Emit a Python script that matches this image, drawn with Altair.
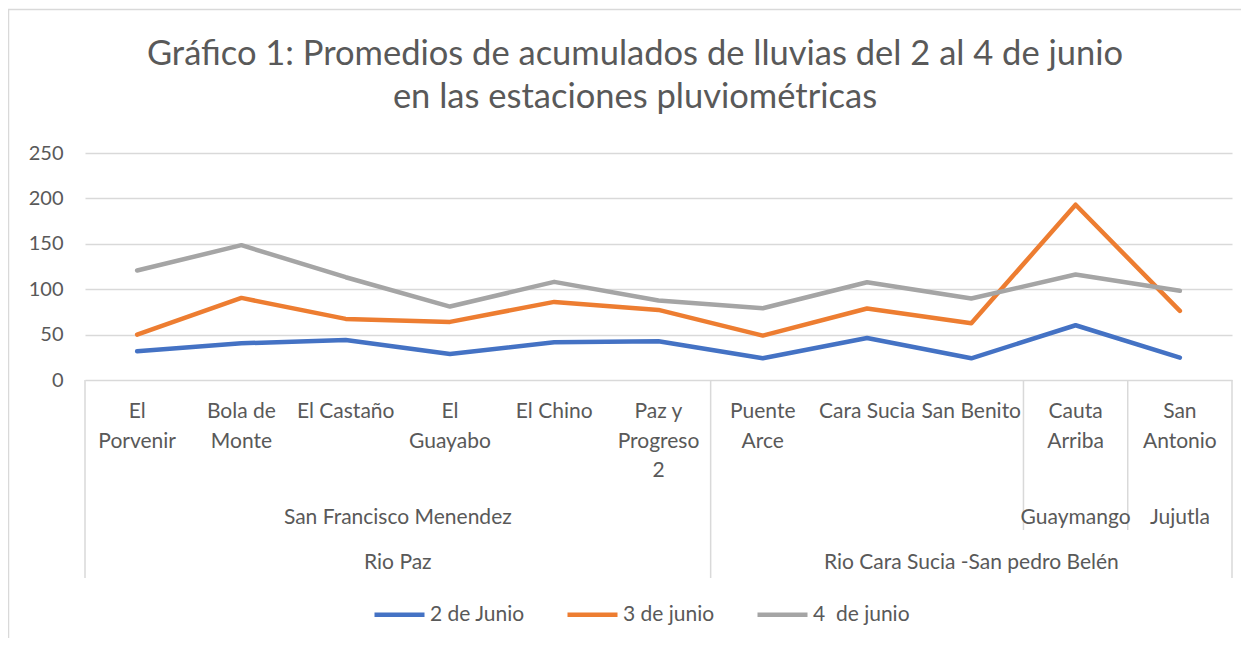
import altair as alt
import pandas as pd

# ---------------- data ----------------
estaciones = ["El Porvenir", "Bola de Monte", "El Castaño", "El Guayabo", "El Chino",
              "Paz y Progreso 2", "Puente Arce", "Cara Sucia", "San Benito",
              "Cauta Arriba", "San Antonio"]
etiquetas = ["El\nPorvenir", "Bola de\nMonte", "El Castaño", "El\nGuayabo", "El Chino",
             "Paz y\nProgreso\n2", "Puente\nArce", "Cara Sucia", "San Benito",
             "Cauta\nArriba", "San\nAntonio"]
municipios = ["San Francisco Menendez"] * 6 + [""] * 3 + ["Guaymango", "Jujutla"]
cuencas = ["Rio Paz"] * 6 + ["Rio Cara Sucia -San pedro Belén"] * 5

series = ["2 de Junio", "3 de junio", "4\u00a0 de junio"]
junio2 = [31.6, 40.4, 44.1, 28.7, 41.5, 42.6, 23.9, 46.3, 23.9, 60.3, 24.6]
junio3 = [50.0, 90.4, 67.3, 64.0, 86.0, 77.2, 48.9, 78.7, 62.5, 193.0, 76.1]
junio4 = [120.6, 148.5, 113.2, 80.9, 108.1, 87.5, 79.0, 107.7, 89.7, 116.2, 98.2]
colores = ["#4472C4", "#ED7D31", "#A5A5A5"]

titulo = "Gráfico 1: Promedios de acumulados de lluvias del 2 al 4 de junio\nen las estaciones pluviométricas"
y_ticks = [0, 50, 100, 150, 200, 250]

# ---------------- tables ----------------
n = len(estaciones)
rows = []
for s, vals in zip(series, [junio2, junio3, junio4]):
    for i, v in enumerate(vals):
        rows.append({"idx": i, "estacion": estaciones[i], "fecha": s, "valor": v})
df_lines = pd.DataFrame(rows)

df_lab = pd.DataFrame({"idx": list(range(n)), "etiqueta": etiquetas})


def runs(labels):
    out = []
    start = 0
    for i in range(1, len(labels) + 1):
        if i == len(labels) or labels[i] != labels[start]:
            out.append((labels[start], start, i - 1))
            start = i
    return out


mun_runs = runs(municipios)
cue_runs = runs(cuencas)
df_mun = pd.DataFrame([{"idx": (a + b) / 2, "texto": t} for t, a, b in mun_runs if t])
df_cue = pd.DataFrame([{"idx": (a + b) / 2, "texto": t} for t, a, b in cue_runs])

cue_bounds = {-0.5, n - 0.5} | {b + 0.5 for _, a, b in cue_runs[:-1]}
mun_bounds = {b + 0.5 for _, a, b in mun_runs[:-1]} - cue_bounds
df_cue_b = pd.DataFrame({"pos": sorted(cue_bounds)})
df_mun_b = pd.DataFrame({"pos": sorted(mun_bounds)})

FONT = "Lato"
FS = 21
GREY_TXT = "#595959"
GRID = "#D9D9D9"
W, H = 1147, 227
xscale = alt.Scale(domain=[-0.5, n - 0.5], nice=False, zero=False)

# ---------------- layers ----------------
border = alt.Chart(pd.DataFrame({"a": [0]})).mark_rect(
    filled=False, stroke=GRID, strokeWidth=1.5
).encode(x=alt.value(-76.5), x2=alt.value(1300), y=alt.value(-143.5), y2=alt.value(800))

lines = alt.Chart(df_lines).mark_line(strokeWidth=4.5, strokeCap="round", strokeJoin="round").encode(
    x=alt.X("idx:Q", scale=xscale, axis=None),
    y=alt.Y("valor:Q", scale=alt.Scale(domain=[0, 250], nice=False),
            axis=alt.Axis(values=y_ticks, grid=True, gridColor=GRID, gridWidth=1.3,
                          domain=False, ticks=False, labelFont=FONT, labelFontSize=20,
                          labelColor=GREY_TXT, labelPadding=22, title=None)),
    color=alt.Color("fecha:N", scale=alt.Scale(domain=series, range=colores),
                    legend=alt.Legend(orient="none", legendX=287, legendY=434,
                                      direction="horizontal", title=None,
                                      symbolType="stroke", symbolSize=2500,
                                      symbolStrokeWidth=4.5, labelFont=FONT,
                                      labelFontSize=FS, labelColor=GREY_TXT,
                                      labelOffset=3, columnPadding=33, padding=0)),
    order="idx:Q",
)

station_text = alt.Chart(df_lab).mark_text(
    font=FONT, fontSize=FS, color=GREY_TXT, align="center", baseline="alphabetic",
    lineBreak="\n", lineHeight=29.5
).encode(x=alt.X("idx:Q", scale=xscale, axis=None), y=alt.value(265), text="etiqueta:N")

mun_text = alt.Chart(df_mun).mark_text(
    font=FONT, fontSize=FS, color=GREY_TXT, align="center", baseline="alphabetic"
).encode(x=alt.X("idx:Q", scale=xscale, axis=None), y=alt.value(371), text="texto:N")

cue_text = alt.Chart(df_cue).mark_text(
    font=FONT, fontSize=FS, color=GREY_TXT, align="center", baseline="alphabetic"
).encode(x=alt.X("idx:Q", scale=xscale, axis=None), y=alt.value(416), text="texto:N")

cue_rules = alt.Chart(df_cue_b).mark_rule(color=GRID, strokeWidth=1.5).encode(
    x=alt.X("pos:Q", scale=xscale, axis=None), y=alt.value(H), y2=alt.value(425))
mun_rules = alt.Chart(df_mun_b).mark_rule(color=GRID, strokeWidth=1.5).encode(
    x=alt.X("pos:Q", scale=xscale, axis=None), y=alt.value(H), y2=alt.value(377))

title = alt.Chart(pd.DataFrame({"t": [titulo]})).mark_text(
    font=FONT, fontSize=34.5, color=GREY_TXT, align="center", baseline="middle",
    lineBreak="\n", lineHeight=43
).encode(x=alt.value(550), y=alt.value(-98), text="t:N")

chart = alt.layer(border, cue_rules, mun_rules, lines, station_text, mun_text, cue_text, title).properties(
    width=W, height=H,
    padding={"left": 77, "top": 145, "right": 9, "bottom": 258},
    autosize=alt.AutoSizeParams(type="none"),
    background="white",
).configure_view(stroke=None)

chart.save("out.html", embed_options={"renderer": "svg", "actions": False})
